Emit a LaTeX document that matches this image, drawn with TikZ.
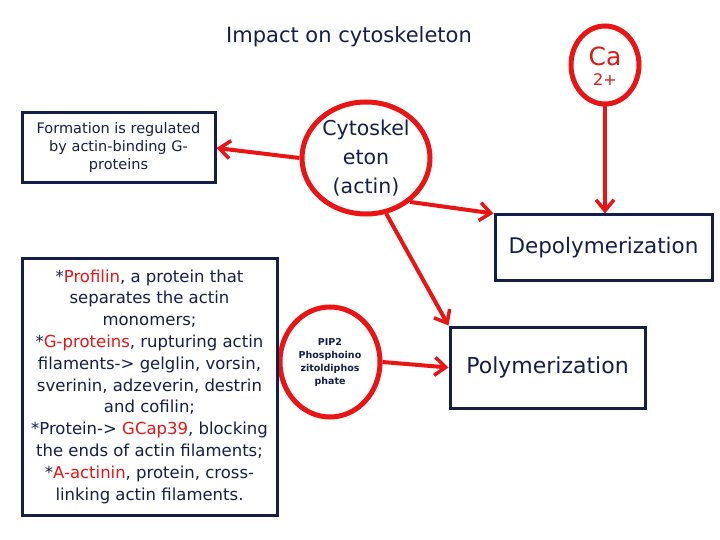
\documentclass[tikz,border=0pt]{standalone}
\usepackage{fontspec}
\setmainfont{DejaVu Sans}
\usetikzlibrary{arrows.meta,shapes.geometric}
\definecolor{navy}{RGB}{20,30,75}
\definecolor{rd}{RGB}{235,20,20}
\tikzset{
  bx/.style={draw=navy,line width=3pt,text=navy,align=center,inner sep=0pt},
  ell/.style={draw=rd,line width=5pt,ellipse,text=navy,align=center,inner sep=0pt},
  arr/.style={draw=rd,line width=4pt,-{Straight Barb[length=11pt,width=18pt,line width=3.5pt]}},
  red/.style={text=rd}
}
\begin{document}
\begin{tikzpicture}[x=1pt,y=-1pt]
\useasboundingbox (0,0) rectangle (720,540);
\node[text=navy,font=\fontsize{21}{24}\selectfont] (title) at (349,37) {Impact on cytoskeleton};
\node[ell,minimum width=68pt,minimum height=78pt] (ca) at (605,65) {};
\node[text=rd,font=\fontsize{25}{25}\selectfont] (cat) at (605,56) {Ca};
\node[text=rd,font=\fontsize{16}{16}\selectfont] (ca2) at (605,80) {2+};
\node[bx,minimum width=193pt,minimum height=70pt,font=\fontsize{14.5}{18}\selectfont] (b1) at (118.5,148) {Formation is regulated\\by actin-binding G-\\proteins};
\node[ell,minimum width=128pt,minimum height=112pt,font=\fontsize{20.5}{29}\selectfont] (cyto) at (366,158) {Cytoskel\\eton\\(actin)};
\node[bx,minimum width=217pt,minimum height=65pt,font=\fontsize{21.5}{24}\selectfont] (depo) at (603.5,247.5) {Depolymerization};
\node[bx,minimum width=195pt,minimum height=81pt,font=\fontsize{22}{24}\selectfont] (poly) at (547.5,367.5) {Polymerization};
\node[ell,minimum width=100pt,minimum height=110pt,font=\fontsize{9.5}{13}\selectfont\bfseries] (pip) at (330,362) {PIP2\\Phosphoino\\zitoldiphos\\phate};
\node[bx,minimum width=255pt,minimum height=257pt,font=\fontsize{16.5}{21.8}\selectfont] (b2) at (149.5,386.5) {*\textcolor{rd}{Profilin}, a protein that\\separates the actin\\monomers;\\*\textcolor{rd}{G-proteins}, rupturing actin\\filaments-> gelglin, vorsin,\\sverinin, adzeverin, destrin\\and cofilin;\\*Protein-> \textcolor{rd}{GCap39}, blocking\\the ends of actin filaments;\\*\textcolor{rd}{A-actinin}, protein, cross-\\linking actin filaments.};
\draw[arr] (cyto.west) -- (b1.east);
\draw[arr] (cyto.-45) -- (depo.north west);
\draw[arr] (cyto.-70) -- (poly.north west);
\draw[arr] (ca.south) -- (ca.south |- depo.north);
\draw[arr] (pip.east) -- (poly.west);
\end{tikzpicture}
\end{document}
